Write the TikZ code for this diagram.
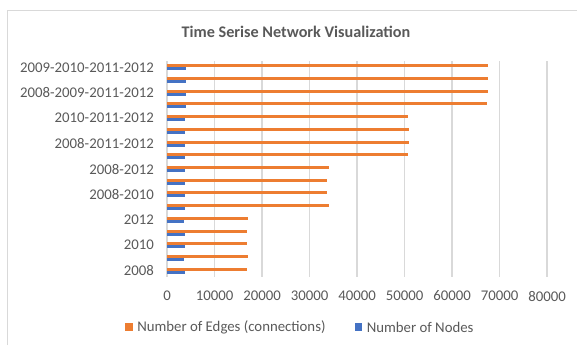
\documentclass[tikz,border=0pt]{standalone}
\usepackage{fontspec}
\setmainfont{Carlito}
\usetikzlibrary{positioning}
\definecolor{edgeorange}{HTML}{ED7D31}
\definecolor{nodeblue}{HTML}{4472C4}
\definecolor{gridgray}{HTML}{D9D9D9}
\definecolor{labelgray}{HTML}{595959}

\begin{document}
\begin{tikzpicture}[
            x=1pt, y=-1pt,
            every node/.style = {
                text=labelgray, inner sep=0pt,
                font=\fontsize{14.8}{17}\selectfont
            },
            gridline/.style = {draw=gridgray, line width=1.3pt},
            edgebar/.style = {fill=edgeorange},
            nodebar/.style = {fill=nodeblue},
            legendkey/.style = {minimum size=7.7pt}
        ]
        \useasboundingbox (0,0) rectangle (577,345);
        % frame of the chart, cut off at right and bottom
        \draw[gridgray, line width=1pt] (7.5,345) -- (7.5,10.5) -- (577,10.5);

        \node[font=\fontsize{16.2}{19}\selectfont\bfseries] (title) at (296,32) {Time Serise Network Visualization};

        % value axis
        \foreach \v [count=\i from 0] in {0,10000,20000,30000,40000,50000,60000,70000,80000} {
            \draw[gridline] (167+47.5*\i,61) -- (167+47.5*\i,277);
            \node (tick\i) at (167+47.5*\i,296) {\v};
        }

        % bars, values in thousands
        \foreach \e/\n [count=\i] in {67.5/3.9, 67.5/3.9, 67.5/3.9, 67.3/3.9,
                50.7/3.8, 50.9/3.8, 50.9/3.8, 50.7/3.8,
                34.1/3.8, 33.7/3.8, 33.7/3.8, 34.0/3.8,
                17.1/3.5, 16.9/3.7, 16.9/3.7, 17.1/3.6, 16.9/3.7} {
            \fill[edgebar] (167,61+12.706*\i-9.353) rectangle ++(4.75*\e,3);
            \fill[nodebar] (167,61+12.706*\i-6.353) rectangle ++(4.75*\n,3);
        }

        % category labels
        \foreach \lab [count=\k from 0] in {2009-2010-2011-2012, 2008-2009-2011-2012,
                2010-2011-2012, 2008-2011-2012, 2008-2012, 2008-2010, 2012, 2010, 2008} {
            \node[anchor=east] (cat\k) at (154,67.353+25.412*\k) {\lab};
        }

        % legend
        \node[legendkey, fill=edgeorange] (keyedge) at (129,327) {};
        \node[right=4pt of keyedge] (legedge) {Number of Edges (connections)};
        \node[legendkey, fill=nodeblue] (keynode) at (358.5,327) {};
        \node[right=4pt of keynode] (legnode) {Number of Nodes};
\end{tikzpicture}
\end{document}
